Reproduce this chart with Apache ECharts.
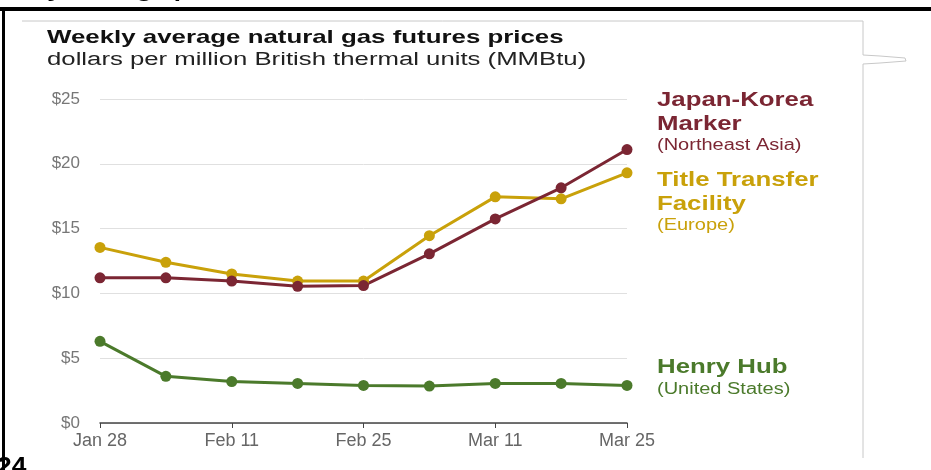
<!DOCTYPE html>
<html>
<head>
<meta charset="utf-8">
<script src="https://cdn.jsdelivr.net/npm/echarts@6/dist/echarts.min.js"></script>
<style>
  html, body { margin: 0; padding: 0; background: #fff; }
  #main { width: 931px; height: 470px; }
</style>
</head>
<body>
<div id="main"></div>
<script>
// weekly dates
var weeks = ['Jan 28', 'Feb 4', 'Feb 11', 'Feb 18', 'Feb 25', 'Mar 4', 'Mar 11', 'Mar 18', 'Mar 25'];
// dollars per MMBtu
var jkm = [11.2, 11.2, 10.95, 10.55, 10.6, 13.05, 15.75, 18.15, 21.1];
var ttf = [13.55, 12.4, 11.5, 10.95, 10.95, 14.45, 17.45, 17.3, 19.3];
var henryHub = [6.3, 3.6, 3.2, 3.05, 2.9, 2.85, 3.05, 3.05, 2.9];
var yTicks = [0, 5, 10, 15, 20, 25];

var font = '"Liberation Sans", Arial, sans-serif';
var cJkm = '#7b2633', cTtf = '#c9a10a', cHh = '#4b7a2b';

var chart = echarts.init(document.getElementById('main'));

function lineSeries(name, data, color) {
  return {
    name: name,
    type: 'line',
    data: data,
    symbol: 'circle',
    symbolSize: 11,
    lineStyle: { color: color, width: 3 },
    itemStyle: { color: color },
    animation: false
  };
}

// text stretched sideways like the source picture
function txt(x, y, s, size, weight, color, sx) {
  return {
    type: 'text',
    silent: true,
    x: x, y: y,
    scaleX: sx || 1.3,
    style: {
      x: 0, y: 0, text: s, fill: color,
      font: weight + ' ' + size + 'px ' + font,
      textVerticalAlign: 'top'
    }
  };
}

var option = {
  animation: false,
  grid: { left: 100, right: 304, top: 99, bottom: 47 },
  xAxis: {
    type: 'category',
    data: weeks,
    boundaryGap: false,
    axisLine: { lineStyle: { color: '#444', width: 1.5 } },
    axisTick: { interval: 1, length: 5, lineStyle: { color: '#444' } },
    axisLabel: { interval: 1, color: '#666', fontSize: 18, fontFamily: font, margin: 9 },
    splitLine: { show: false }
  },
  yAxis: {
    type: 'value',
    min: yTicks[0],
    max: yTicks[yTicks.length - 1],
    interval: 5,
    axisLine: { show: false },
    axisTick: { show: false },
    axisLabel: {
      color: '#777', fontSize: 17, fontFamily: font, margin: 20,
      formatter: function (v) { return '$' + v; }
    },
    splitLine: { lineStyle: { color: '#e0e0e0', width: 1 } }
  },
  series: [
    lineSeries('Henry Hub', henryHub, cHh),
    lineSeries('Title Transfer Facility', ttf, cTtf),
    lineSeries('Japan-Korea Marker', jkm, cJkm)
  ],
  graphic: [
    // screenshot frame bits
    { type: 'rect', silent: true, shape: { x: 0, y: 7, width: 931, height: 4 }, style: { fill: '#000' } },
    { type: 'rect', silent: true, shape: { x: 2, y: 7, width: 3, height: 463 }, style: { fill: '#000' } },
    { type: 'polyline', silent: true, shape: { points: [[22, 21], [863, 21], [863, 55]] }, style: { stroke: '#c8c8c8', lineWidth: 1, fill: null } },
    { type: 'polyline', silent: true, shape: { points: [[863, 55], [880, 56], [905, 58], [906, 61], [880, 63], [863, 64], [863, 458]] }, style: { stroke: '#c8c8c8', lineWidth: 1, fill: null } },
    txt(-27, -18, 'Weekly average prices', 19, 'bold', '#000', 1.36),
    txt(-3, 455, '24', 24, 'bold', '#000', 1.1),
    // titles
    txt(47, 28, 'Weekly average natural gas futures prices', 19, 'bold', '#111', 1.36),
    txt(47, 51, 'dollars per million British thermal units (MMBtu)', 18, 'normal', '#222', 1.43),
    // series labels
    txt(657, 90, 'Japan-Korea', 20, 'bold', cJkm, 1.29),
    txt(657, 114, 'Marker', 20, 'bold', cJkm, 1.29),
    txt(657, 138, '(Northeast Asia)', 16, 'normal', cJkm, 1.25),
    txt(657, 170, 'Title Transfer', 20, 'bold', cTtf, 1.29),
    txt(657, 194, 'Facility', 20, 'bold', cTtf, 1.29),
    txt(657, 218, '(Europe)', 16, 'normal', cTtf, 1.25),
    txt(657, 357, 'Henry Hub', 20, 'bold', cHh, 1.29),
    txt(657, 382, '(United States)', 16, 'normal', cHh, 1.25)
  ]
};

chart.setOption(option);
</script>
</body>
</html>
